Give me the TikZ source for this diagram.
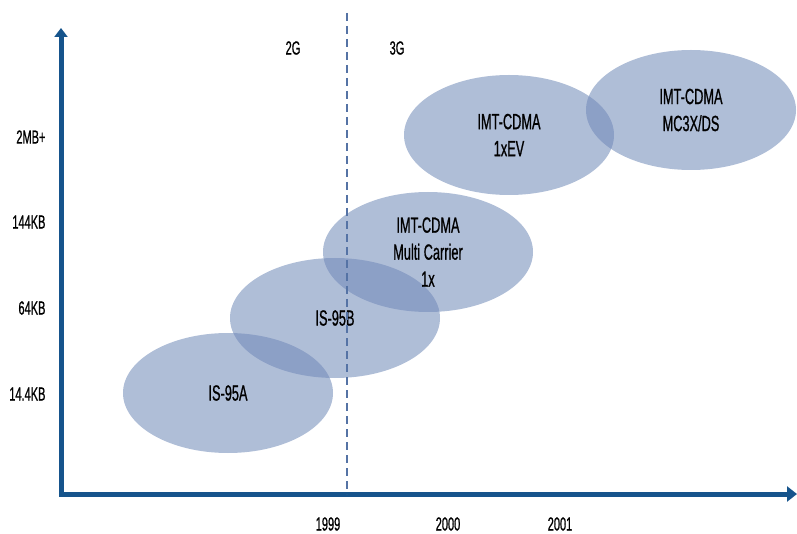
\documentclass[tikz,border=0pt]{standalone}
\usepackage{fontspec}
\setmainfont{Liberation Sans}[FakeStretch=0.58, FakeBold=0.8]
\usetikzlibrary{arrows.meta, shapes.geometric}
\definecolor{cAxis}{RGB}{22,84,140}
\definecolor{cBlob}{RGB}{110,136,183}
\definecolor{cDash}{RGB}{85,115,165}

\begin{document}
\begin{tikzpicture}[x=1pt, y=-1pt,
    blob/.style={ellipse, fill=cBlob, fill opacity=0.55, text opacity=1,
      minimum width=210pt, minimum height=120pt, inner sep=0pt, align=center,
      font=\fontsize{22}{27}\selectfont},
    tick/.style={font=\fontsize{19}{20}\selectfont}]
        \useasboundingbox (0,0) rectangle (797,534);
        % axes
        \coordinate (ytop) at (61,28);
        \coordinate (orig) at (61,494);
        \coordinate (xend) at (797,494);
        \draw[cAxis, line width=5pt, line join=miter,
          {Triangle[width=13pt,length=9pt]}-{Triangle[width=15pt,length=10pt]}]
          (ytop) -- (orig) -- (xend);
        % technology ellipses
        \node[blob] (is95a) at (228,393) {IS-95A};
        \node[blob] (is95b) at (335,318) {IS-95B};
        \node[blob] (multi) at (428,252) {IMT-CDMA\\Multi Carrier\\1x};
        \node[blob] (onexev) at (509,135) {IMT-CDMA\\1xEV};
        \node[blob] (mc3x) at (691,110) {IMT-CDMA\\MC3X/DS};
        % 2G / 3G border
        \coordinate (bordtop) at (347,13);
        \coordinate (bordbot) at (347,494);
        \draw[cDash, line width=2.2pt, dash pattern=on 8pt off 5pt] (bordtop) -- (bordbot);
        \node[tick] (gen2) at (293,48) {2G};
        \node[tick] (gen3) at (397,48) {3G};
        % rates
        \node[tick, anchor=east] (r2mb) at (49,137) {2MB+};
        \node[tick, anchor=east] (r144) at (49,222) {144KB};
        \node[tick, anchor=east] (r64) at (49,308) {64KB};
        \node[tick, anchor=east] (r14) at (49,394) {14.4KB};
        % years
        \node[tick] (y1999) at (328,524) {1999};
        \node[tick] (y2000) at (448,524) {2000};
        \node[tick] (y2001) at (560,524) {2001};
      \end{tikzpicture}
\end{document}
